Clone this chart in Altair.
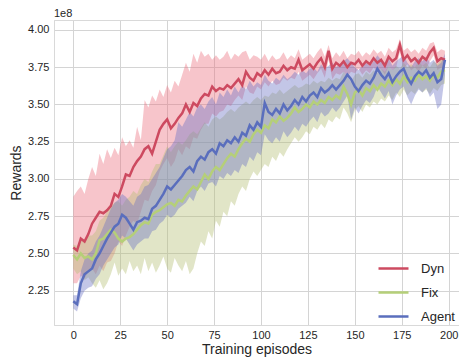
import altair as alt
import pandas as pd

# ---------------- data (rewards in units of 1e8) ----------------
episodes = list(range(0, 200, 2))
series_names = ["Dyn", "Fix", "Agent"]

dyn_mean = [
    2.54, 2.52, 2.60, 2.58, 2.63, 2.70, 2.74, 2.78, 2.77, 2.79,
    2.82, 2.90, 2.88, 2.95, 3.03, 3.02, 3.08, 3.12, 3.15, 3.20,
    3.22, 3.17, 3.25, 3.33, 3.37, 3.40, 3.34, 3.37, 3.41, 3.44,
    3.50, 3.45, 3.51, 3.49, 3.54, 3.57, 3.56, 3.62, 3.59, 3.61,
    3.60, 3.63, 3.61, 3.64, 3.67, 3.63, 3.72, 3.68, 3.66, 3.71,
    3.69, 3.73, 3.70, 3.74, 3.71, 3.72, 3.76, 3.73, 3.75, 3.74,
    3.80, 3.73, 3.75, 3.77, 3.74, 3.78, 3.81, 3.75, 3.86, 3.74,
    3.78, 3.76, 3.79, 3.75, 3.78, 3.77, 3.80, 3.76, 3.79, 3.77,
    3.81, 3.78, 3.80, 3.76, 3.82, 3.79, 3.81, 3.90, 3.80, 3.83,
    3.79, 3.81, 3.78, 3.82, 3.80, 3.85, 3.88, 3.79, 3.81, 3.80,
]
dyn_hi = [
    2.88, 2.92, 2.95, 2.90, 3.00, 3.08, 3.02, 3.17, 3.10, 3.20,
    3.14, 3.21, 3.16, 3.28, 3.22, 3.26, 3.21, 3.35, 3.26, 3.53,
    3.48, 3.56, 3.52, 3.60, 3.55, 3.63, 3.58, 3.66, 3.62, 3.70,
    3.78, 3.72, 3.84, 3.78, 3.86, 3.82, 3.84, 3.80, 3.83, 3.80,
    3.82, 3.86, 3.80, 3.84, 3.82, 3.85, 3.86, 3.80, 3.83, 3.82,
    3.80, 3.84, 3.79, 3.83, 3.80, 3.81, 3.85, 3.80, 3.83, 3.81,
    3.87, 3.80, 3.82, 3.84, 3.81, 3.85, 3.88, 3.82, 3.90, 3.81,
    3.85, 3.82, 3.86, 3.81, 3.84, 3.83, 3.86, 3.82, 3.85, 3.83,
    3.87, 3.84, 3.86, 3.82, 3.88, 3.85, 3.87, 3.94, 3.86, 3.88,
    3.85, 3.87, 3.84, 3.88, 3.86, 3.91, 3.92, 3.85, 3.87, 3.86,
]
dyn_lo = [
    2.30, 2.30, 2.35, 2.33, 2.38, 2.40, 2.36, 2.42, 2.38, 2.44,
    2.45, 2.50, 2.58, 2.55, 2.62, 2.68, 2.72, 2.70, 2.78, 2.86,
    2.85, 2.92, 2.96, 3.05, 3.10, 3.14, 3.08, 3.12, 3.20, 3.16,
    3.22, 3.20, 3.28, 3.27, 3.33, 3.37, 3.37, 3.44, 3.42, 3.45,
    3.46, 3.50, 3.49, 3.53, 3.56, 3.53, 3.62, 3.58, 3.57, 3.62,
    3.60, 3.65, 3.62, 3.66, 3.63, 3.64, 3.68, 3.66, 3.68, 3.67,
    3.72, 3.66, 3.68, 3.70, 3.67, 3.71, 3.74, 3.68, 3.80, 3.67,
    3.71, 3.70, 3.72, 3.69, 3.72, 3.71, 3.74, 3.70, 3.73, 3.71,
    3.75, 3.72, 3.74, 3.70, 3.76, 3.73, 3.75, 3.85, 3.74, 3.77,
    3.73, 3.75, 3.72, 3.76, 3.74, 3.79, 3.83, 3.73, 3.75, 3.74,
]

fix_mean = [
    2.49, 2.46, 2.50, 2.47, 2.48, 2.46, 2.50, 2.59, 2.60, 2.63,
    2.66, 2.64, 2.60, 2.58, 2.60, 2.61, 2.63, 2.66, 2.69, 2.71,
    2.70, 2.76, 2.78, 2.79, 2.81, 2.83, 2.84, 2.82, 2.86, 2.85,
    2.89, 2.92, 2.95, 2.93, 2.98, 3.03, 3.00, 3.05, 3.08, 3.06,
    3.10, 3.14, 3.17, 3.15, 3.20, 3.24, 3.27, 3.25, 3.30, 3.33,
    3.31, 3.36, 3.34, 3.40, 3.38, 3.42, 3.39, 3.41, 3.44, 3.48,
    3.45, 3.47, 3.50, 3.48, 3.52, 3.50, 3.53, 3.51, 3.55, 3.53,
    3.56, 3.54, 3.62, 3.57, 3.50, 3.58, 3.60, 3.56, 3.61, 3.59,
    3.63, 3.60, 3.64, 3.62, 3.66, 3.63, 3.67, 3.64, 3.69, 3.65,
    3.68, 3.66, 3.70, 3.67, 3.69, 3.66, 3.70, 3.68, 3.72, 3.73,
]
fix_hi = [
    2.56, 2.55, 2.60, 2.58, 2.62, 2.62, 2.65, 2.72, 2.74, 2.78,
    2.82, 2.84, 2.85, 2.82, 2.86, 2.88, 2.92, 2.90, 2.96, 3.00,
    2.98, 3.05, 3.10, 3.10, 3.16, 3.22, 3.18, 3.22, 3.25, 3.23,
    3.26, 3.30, 3.32, 3.30, 3.34, 3.38, 3.35, 3.40, 3.42, 3.40,
    3.42, 3.45, 3.47, 3.45, 3.48, 3.50, 3.52, 3.50, 3.53, 3.55,
    3.53, 3.56, 3.55, 3.58, 3.57, 3.60, 3.57, 3.59, 3.61, 3.63,
    3.61, 3.62, 3.64, 3.63, 3.66, 3.64, 3.66, 3.65, 3.68, 3.66,
    3.68, 3.67, 3.72, 3.69, 3.65, 3.70, 3.71, 3.68, 3.72, 3.70,
    3.73, 3.71, 3.74, 3.72, 3.76, 3.73, 3.76, 3.74, 3.78, 3.75,
    3.77, 3.75, 3.79, 3.76, 3.78, 3.75, 3.79, 3.77, 3.80, 3.80,
]
fix_lo = [
    2.40, 2.36, 2.38, 2.32, 2.34, 2.30, 2.27, 2.32, 2.26, 2.30,
    2.36, 2.44, 2.35, 2.40, 2.36, 2.45, 2.38, 2.42, 2.36, 2.47,
    2.38, 2.44, 2.37, 2.42, 2.48, 2.40, 2.37, 2.47, 2.42, 2.38,
    2.45, 2.36, 2.40, 2.50, 2.58, 2.55, 2.65, 2.60, 2.72, 2.68,
    2.78, 2.75, 2.85, 2.82, 2.90, 2.95, 2.92, 3.00, 3.05, 3.02,
    3.06, 3.10, 3.08, 3.15, 3.12, 3.18, 3.15, 3.20, 3.24, 3.28,
    3.25, 3.28, 3.32, 3.30, 3.35, 3.33, 3.37, 3.34, 3.40, 3.38,
    3.42, 3.40, 3.48, 3.44, 3.38, 3.46, 3.49, 3.45, 3.50, 3.48,
    3.52, 3.50, 3.54, 3.52, 3.56, 3.53, 3.58, 3.55, 3.60, 3.56,
    3.59, 3.57, 3.61, 3.58, 3.60, 3.57, 3.61, 3.59, 3.63, 3.64,
]

agent_mean = [
    2.18, 2.16, 2.30, 2.36, 2.38, 2.40, 2.46, 2.50, 2.55, 2.60,
    2.64, 2.68, 2.70, 2.76, 2.74, 2.70, 2.66, 2.71, 2.72, 2.74,
    2.73, 2.80, 2.82, 2.86, 2.90, 2.95, 2.93, 2.96, 2.99, 3.02,
    3.06, 3.08, 3.05, 3.12, 3.15, 3.13, 3.18, 3.20, 3.17, 3.24,
    3.22, 3.26, 3.24, 3.28, 3.25, 3.31, 3.29, 3.36, 3.33, 3.38,
    3.35, 3.51, 3.45, 3.43, 3.47, 3.44, 3.50, 3.46, 3.49, 3.53,
    3.50, 3.55, 3.52, 3.56, 3.58, 3.55, 3.61, 3.58, 3.60, 3.63,
    3.60, 3.63, 3.66, 3.70, 3.67, 3.62, 3.59, 3.63, 3.66, 3.64,
    3.68, 3.74, 3.70, 3.67, 3.71, 3.65, 3.69, 3.72, 3.74, 3.68,
    3.64, 3.69, 3.72, 3.70, 3.73, 3.68, 3.71, 3.65, 3.67, 3.80,
]
agent_hi = [
    2.22, 2.22, 2.38, 2.46, 2.50, 2.52, 2.58, 2.62, 2.68, 2.74,
    2.80, 2.84, 2.86, 2.90, 2.88, 2.85, 2.82, 2.88, 2.90, 2.95,
    2.96, 3.00, 3.04, 3.08, 3.14, 3.20, 3.22, 3.26, 3.38, 3.35,
    3.40, 3.45, 3.42, 3.48, 3.50, 3.47, 3.52, 3.55, 3.50, 3.58,
    3.55, 3.60, 3.56, 3.62, 3.58, 3.63, 3.60, 3.66, 3.62, 3.65,
    3.63, 3.70, 3.66, 3.64, 3.68, 3.66, 3.70, 3.67, 3.69, 3.72,
    3.70, 3.73, 3.71, 3.74, 3.75, 3.72, 3.77, 3.74, 3.76, 3.78,
    3.75, 3.77, 3.79, 3.81, 3.78, 3.75, 3.73, 3.76, 3.78, 3.76,
    3.79, 3.83, 3.80, 3.78, 3.81, 3.76, 3.79, 3.81, 3.83, 3.78,
    3.75, 3.79, 3.81, 3.79, 3.82, 3.78, 3.80, 3.76, 3.78, 3.84,
]
agent_lo = [
    2.13, 2.11, 2.20, 2.25, 2.27, 2.28, 2.33, 2.36, 2.42, 2.46,
    2.50, 2.54, 2.56, 2.62, 2.60, 2.56, 2.52, 2.56, 2.58, 2.60,
    2.60, 2.65, 2.66, 2.70, 2.72, 2.76, 2.74, 2.76, 2.80, 2.82,
    2.84, 2.88, 2.85, 2.92, 2.95, 2.92, 2.97, 2.98, 2.95, 3.02,
    3.00, 3.04, 3.02, 3.06, 3.04, 3.10, 3.08, 3.15, 3.12, 3.18,
    3.16, 3.30, 3.26, 3.24, 3.28, 3.25, 3.32, 3.28, 3.31, 3.35,
    3.32, 3.37, 3.35, 3.39, 3.42, 3.38, 3.45, 3.42, 3.44, 3.48,
    3.45, 3.48, 3.52, 3.56, 3.40, 3.48, 3.44, 3.49, 3.53, 3.51,
    3.55, 3.62, 3.58, 3.54, 3.59, 3.50, 3.56, 3.60, 3.62, 3.55,
    3.50, 3.56, 3.60, 3.58, 3.61, 3.55, 3.58, 3.47, 3.50, 3.70,
]

x_ticks = [0, 25, 50, 75, 100, 125, 150, 175, 200]
y_ticks = [2.25, 2.50, 2.75, 3.00, 3.25, 3.50, 3.75, 4.00]

# ---------------- styling ----------------
FONT = "Liberation Sans"
TEXT = "#262626"
GRID = "#d4d4d4"
SPINE = "#d9d9d9"
line_colors = ["#cd4a60", "#b5cf78", "#5a6ebd"]
band_colors = ["#ec6f7e", "#b5bd72", "#6a70c4"]

series = {
    "Dyn": (dyn_mean, dyn_lo, dyn_hi),
    "Fix": (fix_mean, fix_lo, fix_hi),
    "Agent": (agent_mean, agent_lo, agent_hi),
}
frames = {}
for name, (m, lo, hi) in series.items():
    frames[name] = pd.DataFrame(
        {"episode": episodes, "series": name, "mean": m, "lo": lo, "hi": hi}
    )

x_scale = alt.Scale(domain=[-10.28, 205.49], nice=False, zero=False)
y_scale = alt.Scale(domain=[2.02, 4.067], nice=False, zero=False)

y_axis = alt.Axis(
    values=y_ticks, format=".2f", title="Rewards", grid=True, gridColor=GRID,
    gridWidth=1, ticks=False, domain=True, domainColor=SPINE, domainWidth=1,
    labelPadding=5, labelFontSize=11, labelFont=FONT, labelColor=TEXT,
    titleFont=FONT, titleFontSize=14, titleFontWeight="normal", titleColor=TEXT,
    titlePadding=4,
)
x_axis_bottom = alt.Axis(
    values=x_ticks, format="d", title="Training episodes", grid=True,
    gridColor=GRID, gridWidth=1, ticks=False, domain=True, domainColor=SPINE,
    domainWidth=1, labelPadding=4, labelFontSize=11, labelFont=FONT,
    labelColor=TEXT, titleFont=FONT, titleFontSize=14,
    titleFontWeight="normal", titleColor=TEXT, titlePadding=2,
)
x_axis_top = alt.Axis(
    orient="top", labels=False, ticks=False, grid=False, title=None,
    domain=True, domainColor=SPINE, domainWidth=1,
)

stroke_scale = alt.Scale(domain=series_names, range=line_colors)
legend = alt.Legend(
    title=None, orient="none", legendX=323, legendY=232,
    symbolType="stroke", symbolStrokeWidth=2.5, symbolSize=900,
    labelFont=FONT, labelFontSize=13, labelColor=TEXT, labelOffset=11,
    rowPadding=-5,
)

layers = []
for i, name in enumerate(series_names):
    layers.append(
        alt.Chart(frames[name]).mark_area(opacity=0.4, color=band_colors[i]).encode(
            x=alt.X("episode:Q", scale=x_scale,
                    axis=x_axis_top if i == 0 else None),
            y=alt.Y("lo:Q", scale=y_scale, axis=y_axis),
            y2="hi:Q",
        )
    )
for i, name in enumerate(series_names):
    layers.append(
        alt.Chart(frames[name]).mark_line(strokeWidth=2.5).encode(
            x=alt.X("episode:Q", scale=x_scale,
                    axis=x_axis_bottom if i == 0 else None),
            y=alt.Y("mean:Q", scale=y_scale, axis=y_axis),
            stroke=alt.Stroke("series:N", scale=stroke_scale, legend=legend),
        )
    )

chart = (
    alt.layer(*layers)
    .resolve_axis(x="independent")
    .properties(
        width=405,
        height=305,
        autosize=alt.AutoSizeParams(type="none"),
        padding={"left": 54, "top": 20, "right": 0, "bottom": 33},
        title=alt.TitleParams(
            "1e8", anchor="start", frame="group", fontSize=11, font=FONT,
            fontWeight="normal", color=TEXT, offset=1,
        ),
    )
    .configure_view(stroke=None)
    .configure(background="white")
)

chart.save("out.html", embed_options={"renderer": "svg", "actions": False})
